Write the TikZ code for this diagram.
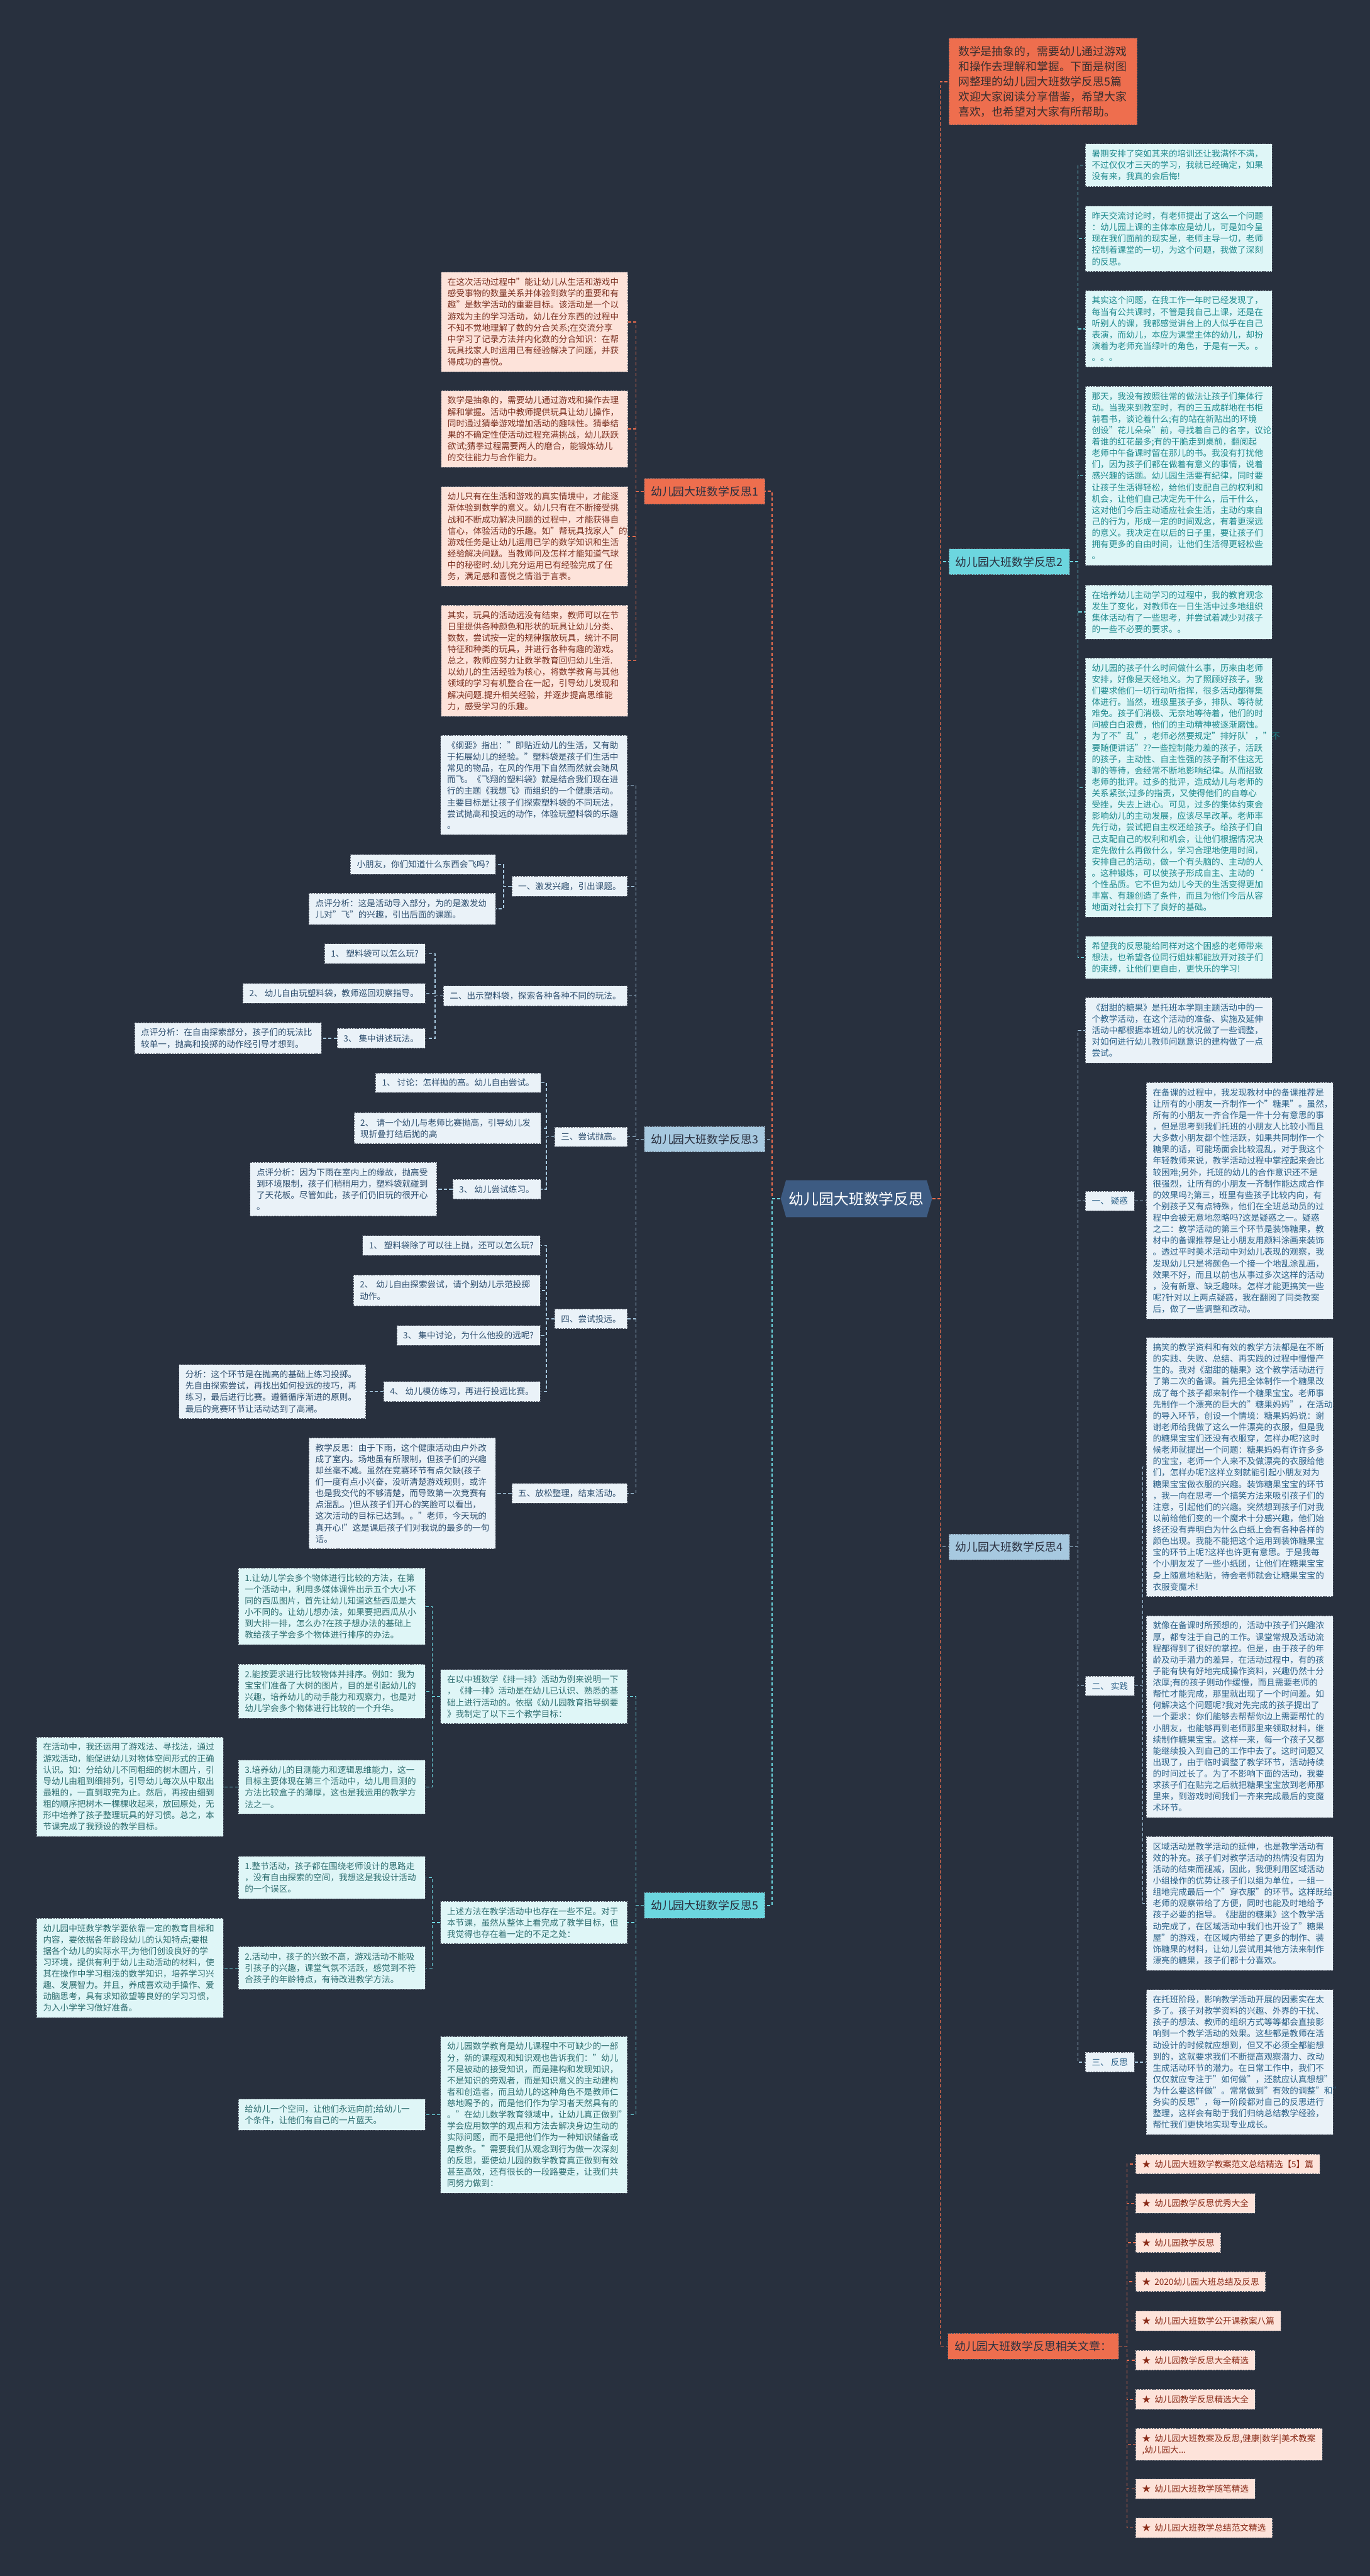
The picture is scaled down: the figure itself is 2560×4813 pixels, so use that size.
\documentclass[tikz,border=0pt]{standalone}
\usepackage{fontspec}
\setmainfont{Noto Sans CJK SC}
\definecolor{bgc}{HTML}{28303E}
\definecolor{bord}{HTML}{555C6A}
\definecolor{orL}{HTML}{EE6E4E}
\definecolor{cyL}{HTML}{6CD6DF}
\definecolor{blL}{HTML}{A7C9E0}
\definecolor{rootc}{HTML}{3D5B82}
\definecolor{lvT}{HTML}{2B3140}
\definecolor{orF}{HTML}{FDE3DA}
\definecolor{orT}{HTML}{7B3020}
\definecolor{cyF}{HTML}{DFF6F7}
\definecolor{cyT}{HTML}{1F8A8E}
\definecolor{cyfT}{HTML}{2E6E70}
\definecolor{blF}{HTML}{EAF2F8}
\definecolor{blT}{HTML}{2D4E6E}
\definecolor{blfT}{HTML}{2C6289}
\definecolor{relT}{HTML}{8A2B18}
\definecolor{introT}{HTML}{3A2F2F}
\pgfdeclarelayer{bg}
\pgfdeclarelayer{edges}
\pgfsetlayers{bg,edges,main}
\newcommand\myfs[2]{\fontsize{#1}{#2}\selectfont}
\newcommand\myL[3]{\draw[#1] (#2.west) -- ++(-15,0) |- (#3.east);}
\newcommand\myR[3]{\draw[#1] (#2.east) -- ++(15,0) |- (#3.west);}
\newcommand\st{★\kern0.45em}
\tikzset{
  bx/.style={draw=bord, dash pattern=on 3pt off 2pt, line width=1pt, inner xsep=12pt, inner ysep=11pt, font=\myfs{16}{21.3}},
  wd/.style={bx, text width=325pt, align=left},
  nor/.style={fill=orF, text=orT},
  ncy/.style={fill=cyF, text=cyT},
  ncyf/.style={fill=cyF, text=cyfT},
  nbl/.style={fill=blF, text=blT},
  nblf/.style={fill=blF, text=blfT},
  nrel/.style={fill=orF, text=relT},
  lv/.style={draw=bord, dash pattern=on 3pt off 2pt, line width=1pt, inner xsep=12.5pt, inner ysep=0pt, minimum height=48pt, font=\myfs{21}{25}, text=lvT},
  cb/.style={line width=1.6pt, dash pattern=on 6pt off 4pt},
  co/.style={cb, draw=orL},
  cc/.style={cb, draw=cyL},
  cl/.style={cb, draw=blL},
  tco/.style={co, line width=2.2pt},
  tcc/.style={cc, line width=2.2pt},
  tcl/.style={cl, line width=2.2pt},
}
\begin{document}
\begin{tikzpicture}[x=1pt, y=-1pt]
\useasboundingbox (0,0) rectangle (2560,4813);
\begin{pgfonlayer}{bg}
\fill[bgc] (0,0) rectangle (2560,4813);
\end{pgfonlayer}

% root
\node[fill=bgc, minimum width=283pt, minimum height=69pt, inner sep=0pt, text=white, font=\myfs{28}{32},
  path picture={\fill[rootc] ([xshift=10pt]path picture bounding box.north west) -- ([xshift=-10pt]path picture bounding box.north east) -- (path picture bounding box.east) -- ([xshift=-10pt]path picture bounding box.south east) -- ([xshift=10pt]path picture bounding box.south west) -- (path picture bounding box.west) -- cycle;}]
  (root) at (1600.5,2239.5) {幼儿园大班数学反思};

% ===== right side =====
\node[draw=bord, dash pattern=on 3pt off 2pt, line width=1pt, fill=orL, text=introT, anchor=west, text width=317pt, align=left, inner xsep=17.5pt, inner ysep=15pt, font=\myfs{21}{28}] (intro) at (1773,152.5)
{数学是抽象的，需要幼儿通过游戏\\和操作去理解和掌握。下面是树图\\网整理的幼儿园大班数学反思5篇\\欢迎大家阅读分享借鉴，希望大家\\喜欢，也希望对大家有所帮助。};

\node[lv, fill=cyL, anchor=west] (r2) at (1773,1049.5) {幼儿园大班数学反思2};
\node[wd, ncy, anchor=west] (r2a) at (2028,308.5) {暑期安排了突如其来的培训还让我满怀不满，\\不过仅仅才三天的学习，我就已经确定，如果\\没有来，我真的会后悔!};
\node[wd, ncy, anchor=west] (r2b) at (2028,446) {昨天交流讨论时，有老师提出了这么一个问题\\：幼儿园上课的主体本应是幼儿，可是如今呈\\现在我们面前的现实是，老师主导一切，老师\\控制着课堂的一切，为这个问题，我做了深刻\\的反思。};
\node[wd, ncy, anchor=west] (r2c) at (2028,614.5) {其实这个问题，在我工作一年时已经发现了，\\每当有公共课时，不管是我自己上课，还是在\\听别人的课，我都感觉讲台上的人似乎在自己\\表演，而幼儿，本应为课堂主体的幼儿，却扮\\演着为老师充当绿叶的角色，于是有一天。。\\。。。};
\node[wd, ncy, anchor=west] (r2d) at (2028,889) {那天，我没有按照往常的做法让孩子们集体行\\动。当我来到教室时，有的三五成群地在书柜\\前看书，谈论着什么;有的站在新贴出的环境\\创设"花儿朵朵"前，寻找着自己的名字，议论\\着谁的红花最多;有的干脆走到桌前，翻阅起\\老师中午备课时留在那儿的书。我没有打扰他\\们，因为孩子们都在做着有意义的事情，说着\\感兴趣的话题。幼儿园生活要有纪律，同时要\\让孩子生活得轻松，给他们支配自己的权利和\\机会，让他们自己决定先干什么，后干什么，\\这对他们今后主动适应社会生活，主动约束自\\己的行为，形成一定的时间观念，有着更深远\\的意义。我决定在以后的日子里，要让孩子们\\拥有更多的自由时间，让他们生活得更轻松些\\。};
\node[wd, ncy, anchor=west] (r2e) at (2028,1143.5) {在培养幼儿主动学习的过程中，我的教育观念\\发生了变化，对教师在一日生活中过多地组织\\集体活动有了一些思考，并尝试着减少对孩子\\的一些不必要的要求。。};
\node[wd, ncy, anchor=west] (r2f) at (2028,1471.5) {幼儿园的孩子什么时间做什么事，历来由老师\\安排，好像是天经地义。为了照顾好孩子，我\\们要求他们一切行动听指挥，很多活动都得集\\体进行。当然，班级里孩子多，排队、等待就\\难免。孩子们消极、无奈地等待着，他们的时\\间被白白浪费，他们的主动精神被逐渐磨蚀。\\为了不"乱"，老师必然要规定"排好队’，"不\\要随便讲话"??一些控制能力差的孩子，活跃\\的孩子，主动性、自主性强的孩子耐不住这无\\聊的等待，会经常不断地影响纪律。从而招致\\老师的批评。过多的批评，造成幼儿与老师的\\关系紧张;过多的指责，又使得他们的自尊心\\受挫，失去上进心。可见，过多的集体约束会\\影响幼儿的主动发展，应该尽早改革。老师率\\先行动，尝试把自主权还给孩子。给孩子们自\\己支配自己的权利和机会，让他们根据情况决\\定先做什么再做什么，学习合理地使用时间，\\安排自己的活动，做一个有头脑的、主动的人\\。这种锻炼，可以使孩子形成自主、主动的`\\个性品质。它不但为幼儿今天的生活变得更加\\丰富、有趣创造了条件，而且为他们今后从容\\地面对社会打下了良好的基础。};
\node[wd, ncy, anchor=west] (r2g) at (2028,1789) {希望我的反思能给同样对这个困惑的老师带来\\想法，也希望各位同行姐妹都能放开对孩子们\\的束缚，让他们更自由，更快乐的学习!};

\node[lv, fill=blL, anchor=west] (r4) at (1773,2890) {幼儿园大班数学反思4};
\node[wd, nblf, anchor=west] (r4a) at (2028,1925) {《甜甜的糖果》是托班本学期主题活动中的一\\个教学活动，在这个活动的准备、实施及延伸\\活动中都根据本班幼儿的状况做了一些调整，\\对如何进行幼儿教师问题意识的建构做了一点\\尝试。};
\node[bx, nblf, anchor=west] (r4b) at (2028,2244) {一、 疑惑};
\node[wd, nblf, anchor=west] (r4b1) at (2142,2243.5) {在备课的过程中，我发现教材中的备课推荐是\\让所有的小朋友一齐制作一个"糖果"。虽然，\\所有的小朋友一齐合作是一件十分有意思的事\\，但是思考到我们托班的小朋友人比较小而且\\大多数小朋友都个性活跃，如果共同制作一个\\糖果的话，可能场面会比较混乱，对于我这个\\年轻教师来说，教学活动过程中掌控起来会比\\较困难;另外，托班的幼儿的合作意识还不是\\很强烈，让所有的小朋友一齐制作能达成合作\\的效果吗?;第三，班里有些孩子比较内向，有\\个别孩子又有点特殊，他们在全班总动员的过\\程中会被无意地忽略吗?这是疑惑之一。疑惑\\之二：教学活动的第三个环节是装饰糖果，教\\材中的备课推荐是让小朋友用颜料涂画来装饰\\。透过平时美术活动中对幼儿表现的观察，我\\发现幼儿只是将颜色一个接一个地乱涂乱画，\\效果不好，而且以前也从事过多次这样的活动\\，没有新意、缺乏趣味。怎样才能更搞笑一些\\呢?针对以上两点疑惑，我在翻阅了同类教案\\后，做了一些调整和改动。};
\node[bx, nblf, anchor=west] (r4c) at (2028,3150) {二、 实践};
\node[wd, nblf, anchor=west] (r4c1) at (2142,2741) {搞笑的教学资料和有效的教学方法都是在不断\\的实践、失败、总结、再实践的过程中慢慢产\\生的。我对《甜甜的糖果》这个教学活动进行\\了第二次的备课。首先把全体制作一个糖果改\\成了每个孩子都来制作一个糖果宝宝。老师事\\先制作一个漂亮的巨大的"糖果妈妈"，在活动\\的导入环节，创设一个情境：糖果妈妈说：谢\\谢老师给我做了这么一件漂亮的衣服，但是我\\的糖果宝宝们还没有衣服穿，怎样办呢?这时\\候老师就提出一个问题：糖果妈妈有许许多多\\的宝宝，老师一个人来不及做漂亮的衣服给他\\们，怎样办呢?这样立刻就能引起小朋友对为\\糖果宝宝做衣服的兴趣。装饰糖果宝宝的环节\\，我一向在思考一个搞笑方法来吸引孩子们的\\注意，引起他们的兴趣。突然想到孩子们对我\\以前给他们变的一个魔术十分感兴趣，他们始\\终还没有弄明白为什么白纸上会有各种各样的\\颜色出现。我能不能把这个运用到装饰糖果宝\\宝的环节上呢?这样也许更有意思。于是我每\\个小朋友发了一些小纸团，让他们在糖果宝宝\\身上随意地粘贴，待会老师就会让糖果宝宝的\\衣服变魔术!};
\node[wd, nblf, anchor=west] (r4c2) at (2142,3207.5) {就像在备课时所预想的，活动中孩子们兴趣浓\\厚，都专注于自己的工作。课堂常规及活动流\\程都得到了很好的掌控。但是，由于孩子的年\\龄及动手潜力的差异，在活动过程中，有的孩\\子能有快有好地完成操作资料，兴趣仍然十分\\浓厚;有的孩子则动作缓慢，而且需要老师的\\帮忙才能完成，那里就出现了一个时间差。如\\何解决这个问题呢?我对先完成的孩子提出了\\一个要求：你们能够去帮帮你边上需要帮忙的\\小朋友，也能够再到老师那里来领取材料，继\\续制作糖果宝宝。这样一来，每一个孩子又都\\能继续投入到自己的工作中去了。这时问题又\\出现了，由于临时调整了教学环节，活动持续\\的时间过长了。为了不影响下面的活动，我要\\求孩子们在贴完之后就把糖果宝宝放到老师那\\里来，到游戏时间我们一齐来完成最后的变魔\\术环节。};
\node[wd, nblf, anchor=west] (r4c3) at (2142,3556.5) {区域活动是教学活动的延伸，也是教学活动有\\效的补充。孩子们对教学活动的热情没有因为\\活动的结束而褪减，因此，我便利用区域活动\\小组操作的优势让孩子们以组为单位，一组一\\组地完成最后一个"穿衣服"的环节。这样既给\\老师的观察带给了方便，同时也能及时地给予\\孩子必要的指导。《甜甜的糖果》这个教学活\\动完成了，在区域活动中我们也开设了"糖果\\屋"的游戏，在区域内带给了更多的制作、装\\饰糖果的材料，让幼儿尝试用其他方法来制作\\漂亮的糖果，孩子们都十分喜欢。};
\node[bx, nblf, anchor=west] (r4d) at (2028,3853) {三、 反思};
\node[wd, nblf, anchor=west] (r4d1) at (2142,3853) {在托班阶段，影响教学活动开展的因素实在太\\多了。孩子对教学资料的兴趣、外界的干扰、\\孩子的想法、教师的组织方式等等都会直接影\\响到一个教学活动的效果。这些都是教师在活\\动设计的时候就应想到，但又不必须全都能想\\到的，这就要求我们不断提高观察潜力、改动\\生成活动环节的潜力。在日常工作中，我们不\\仅仅就应专注于"如何做"，还就应认真想想"\\为什么要这样做"。常常做到"有效的调整"和"\\务实的反思"，每一阶段都对自己的反思进行\\整理，这样会有助于我们归纳总结教学经验，\\帮忙我们更快地实现专业成长。};

\node[lv, fill=orL, anchor=west] (rel) at (1771,4383.5) {幼儿园大班数学反思相关文章：};
\node[bx, nrel, anchor=west] (rel1) at (2122,4043.5) {\st 幼儿园大班数学教案范文总结精选【5】篇};
\node[bx, nrel, anchor=west] (rel2) at (2122,4116.5) {\st 幼儿园教学反思优秀大全};
\node[bx, nrel, anchor=west] (rel3) at (2122,4190) {\st 幼儿园教学反思};
\node[bx, nrel, anchor=west] (rel4) at (2122,4263) {\st 2020幼儿园大班总结及反思};
\node[bx, nrel, anchor=west] (rel5) at (2122,4336.5) {\st 幼儿园大班数学公开课教案八篇};
\node[bx, nrel, anchor=west] (rel6) at (2122,4410) {\st 幼儿园教学反思大全精选};
\node[bx, nrel, anchor=west] (rel7) at (2122,4483) {\st 幼儿园教学反思精选大全};
\node[wd, nrel, anchor=west] (rel8) at (2122,4567) {\st 幼儿园大班教案及反思,健康|数学|美术教案\\,幼儿园大...};
\node[bx, nrel, anchor=west] (rel9) at (2122,4650) {\st 幼儿园大班教学随笔精选};
\node[bx, nrel, anchor=west] (rel10) at (2122,4723) {\st 幼儿园大班教学总结范文精选};

% ===== left side =====
\node[lv, fill=orL, anchor=east] (l1) at (1430,918) {幼儿园大班数学反思1};
\node[wd, nor, anchor=east] (l1a) at (1174,601.5) {在这次活动过程中"能让幼儿从生活和游戏中\\感受事物的数量关系并体验到数学的重要和有\\趣"是数学活动的重要目标。该活动是一个以\\游戏为主的学习活动，幼儿在分东西的过程中\\不知不觉地理解了数的分合关系;在交流分享\\中学习了记录方法并内化数的分合知识：在帮\\玩具找家人时运用已有经验解决了问题，并获\\得成功的喜悦。};
\node[wd, nor, anchor=east] (l1b) at (1174,801.5) {数学是抽象的，需要幼儿通过游戏和操作去理\\解和掌握。活动中教师提供玩具让幼儿操作，\\同时通过猜拳游戏增加活动的趣味性。猜拳结\\果的不确定性使活动过程充满挑战，幼儿跃跃\\欲试;猜拳过程需要两人的磨合，能锻炼幼儿\\的交往能力与合作能力。};
\node[wd, nor, anchor=east] (l1c) at (1174,1002.5) {幼儿只有在生活和游戏的真实情境中，才能逐\\渐体验到数学的意义。幼儿只有在不断接受挑\\战和不断成功解决问题的过程中，才能获得自\\信心，体验活动的乐趣。如"帮玩具找家人"的\\游戏任务是让幼儿运用已学的数学知识和生活\\经验解决问题。当教师问及怎样才能知道气球\\中的秘密时.幼儿充分运用已有经验完成了任\\务，满足感和喜悦之情溢于言表。};
\node[wd, nor, anchor=east] (l1d) at (1174,1234.5) {其实，玩具的活动远没有结束，教师可以在节\\日里提供各种颜色和形状的玩具让幼儿分类、\\数数，尝试按一定的规律摆放玩具，统计不同\\特征和种类的玩具，并进行各种有趣的游戏。\\总之，教师应努力让数学教育回归幼儿生活.\\以幼儿的生活经验为核心，将数学教育与其他\\领域的学习有机整合在一起，引导幼儿发现和\\解决问题.提升相关经验，并逐步提高思维能\\力，感受学习的乐趣。};

\node[lv, fill=blL, anchor=east] (l3) at (1430,2128.5) {幼儿园大班数学反思3};
\node[wd, nbl, anchor=east] (l3a) at (1173,1467) {《纲要》指出："即贴近幼儿的生活，又有助\\于拓展幼儿的经验。"塑料袋是孩子们生活中\\常见的物品，在风的作用下自然而然就会随风\\而飞。《飞翔的塑料袋》就是结合我们现在进\\行的主题《我想飞》而组织的一个健康活动。\\主要目标是让孩子们探索塑料袋的不同玩法，\\尝试抛高和投远的动作，体验玩塑料袋的乐趣\\。};
\node[bx, nbl, anchor=east] (l3b) at (1173,1656) {一、激发兴趣，引出课题。};
\node[bx, nbl, anchor=east] (l3b1) at (927,1615) {小朋友，你们知道什么东西会飞吗?};
\node[wd, nbl, anchor=east] (l3b2) at (927,1698) {点评分析：这是活动导入部分，为的是激发幼\\儿对"飞"的兴趣，引出后面的课题。};
\node[bx, nbl, anchor=east] (l3c) at (1173,1861) {二、出示塑料袋，探索各种各种不同的玩法。};
\node[bx, nbl, anchor=east] (l3c1) at (795,1782) {1、 塑料袋可以怎么玩?};
\node[bx, nbl, anchor=east] (l3c2) at (795,1856) {2、 幼儿自由玩塑料袋，教师巡回观察指导。};
\node[bx, nbl, anchor=east] (l3c3) at (795,1940) {3、 集中讲述玩法。};
\node[wd, nbl, anchor=east] (l3c3a) at (601,1940) {点评分析：在自由探索部分，孩子们的玩法比\\较单一，抛高和投掷的动作经引导才想到。};
\node[bx, nbl, anchor=east] (l3d) at (1173,2124) {三、尝试抛高。};
\node[bx, nbl, anchor=east] (l3d1) at (1011,2023) {1、 讨论：怎样抛的高。幼儿自由尝试。};
\node[wd, nbl, anchor=east] (l3d2) at (1011,2108) {2、 请一个幼儿与老师比赛抛高，引导幼儿发\\现折叠打结后抛的高};
\node[bx, nbl, anchor=east] (l3d3) at (1011,2222) {3、 幼儿尝试练习。};
\node[wd, nbl, anchor=east] (l3d3a) at (817,2222) {点评分析：因为下雨在室内上的缘故，抛高受\\到环境限制，孩子们稍稍用力，塑料袋就碰到\\了天花板。尽管如此，孩子们仍旧玩的很开心\\。};
\node[bx, nbl, anchor=east] (l3e) at (1173,2464) {四、尝试投远。};
\node[bx, nbl, anchor=east] (l3e1) at (1010,2327) {1、 塑料袋除了可以往上抛，还可以怎么玩?};
\node[wd, nbl, anchor=east] (l3e2) at (1010,2411) {2、 幼儿自由探索尝试，请个别幼儿示范投掷\\动作。};
\node[bx, nbl, anchor=east] (l3e3) at (1010,2495) {3、 集中讨论，为什么他投的远呢?};
\node[bx, nbl, anchor=east] (l3e4) at (1010,2600) {4、 幼儿模仿练习，再进行投远比赛。};
\node[wd, nbl, anchor=east] (l3e4a) at (684,2600) {分析：这个环节是在抛高的基础上练习投掷。\\先自由探索尝试，再找出如何投远的技巧，再\\练习，最后进行比赛。遵循循序渐进的原则。\\最后的竞赛环节让活动达到了高潮。};
\node[bx, nbl, anchor=east] (l3f) at (1173,2790) {五、放松整理，结束活动。};
\node[wd, nbl, anchor=east] (l3f1) at (927,2790) {教学反思：由于下雨，这个健康活动由户外改\\成了室内。场地虽有所限制，但孩子们的兴趣\\却丝毫不减。虽然在竞赛环节有点欠缺(孩子\\们一度有点小兴奋，没听清楚游戏规则，或许\\也是我交代的不够清楚，而导致第一次竞赛有\\点混乱。)但从孩子们开心的笑脸可以看出，\\这次活动的目标已达到。。"老师，今天玩的\\真开心!"这是课后孩子们对我说的最多的一句\\话。};

\node[lv, fill=cyL, anchor=east] (l5) at (1430,3560) {幼儿园大班数学反思5};
\node[wd, ncyf, anchor=east] (l5a) at (1173,3170) {在以中班数学《排一排》活动为例来说明一下\\，《排一排》活动是在幼儿已认识、熟悉的基\\础上进行活动的。依据《幼儿园教育指导纲要\\》我制定了以下三个教学目标：};
\node[wd, ncyf, anchor=east] (l5a1) at (795,3001.5) {1.让幼儿学会多个物体进行比较的方法，在第\\一个活动中，利用多媒体课件出示五个大小不\\同的西瓜图片，首先让幼儿知道这些西瓜是大\\小不同的。让幼儿想办法，如果要把西瓜从小\\到大排一排，怎么办?在孩子想办法的基础上\\教给孩子学会多个物体进行排序的办法。};
\node[wd, ncyf, anchor=east] (l5a2) at (795,3160) {2.能按要求进行比较物体并排序。例如：我为\\宝宝们准备了大树的图片，目的是引起幼儿的\\兴趣，培养幼儿的动手能力和观察力，也是对\\幼儿学会多个物体进行比较的一个升华。};
\node[wd, ncyf, anchor=east] (l5a3) at (795,3339) {3.培养幼儿的目测能力和逻辑思维能力，这一\\目标主要体现在第三个活动中，幼儿用目测的\\方法比较盒子的薄厚，这也是我运用的教学方\\法之一。};
\node[wd, ncyf, anchor=east] (l5a3a) at (418,3338.5) {在活动中，我还运用了游戏法、寻找法，通过\\游戏活动，能促进幼儿对物体空间形式的正确\\认识。如：分给幼儿不同粗细的树木图片，引\\导幼儿由粗到细排列，引导幼儿每次从中取出\\最粗的，一直到取完为止。然后，再按由细到\\粗的顺序把树木一棵棵收起来，放回原处，无\\形中培养了孩子整理玩具的好习惯。总之，本\\节课完成了我预设的教学目标。};
\node[wd, ncyf, anchor=east] (l5b) at (1173,3592) {上述方法在教学活动中也存在一些不足。对于\\本节课，虽然从整体上看完成了教学目标，但\\我觉得也存在着一定的不足之处：};
\node[wd, ncyf, anchor=east] (l5b1) at (795,3508) {1.整节活动，孩子都在围绕老师设计的思路走\\，没有自由探索的空间，我想这是我设计活动\\的一个误区。};
\node[wd, ncyf, anchor=east] (l5b2) at (795,3677) {2.活动中，孩子的兴致不高，游戏活动不能吸\\引孩子的兴趣，课堂气氛不活跃，感觉到不符\\合孩子的年龄特点，有待改进教学方法。};
\node[wd, ncyf, anchor=east] (l5b2a) at (418,3677) {幼儿园中班数学教学要依靠一定的教育目标和\\内容，要依据各年龄段幼儿的认知特点;要根\\据各个幼儿的实际水平;为他们创设良好的学\\习环境，提供有利于幼儿主动活动的材料，使\\其在操作中学习粗浅的数学知识，培养学习兴\\趣、发展智力。并且，养成喜欢动手操作、爱\\动脑思考，具有求知欲望等良好的学习习惯，\\为入小学学习做好准备。};
\node[wd, ncyf, anchor=east] (l5c) at (1173,3951) {幼儿园数学教育是幼儿课程中不可缺少的一部\\分，新的课程观和知识观也告诉我们："幼儿\\不是被动的接受知识，而是建构和发现知识，\\不是知识的旁观者，而是知识意义的主动建构\\者和创造者，而且幼儿的这种角色不是教师仁\\慈地赐予的，而是他们作为学习者天然具有的\\。"在幼儿数学教育领域中，让幼儿真正做到"\\学会应用数学的观点和方法去解决身边生动的\\实际问题，而不是把他们作为一种知识储备或\\是教条。"需要我们从观念到行为做一次深刻\\的反思，要使幼儿园的数学教育真正做到有效\\甚至高效，还有很长的一段路要走，让我们共\\同努力做到：};
\node[wd, ncyf, anchor=east] (l5c1) at (795,3951) {给幼儿一个空间，让他们永远向前;给幼儿一\\个条件，让他们有自己的一片蓝天。};

% ===== connectors =====
\begin{pgfonlayer}{edges}
\draw[tcl] (root.west) -- ++(-16,0) |- (l3.east);
\draw[tco] (root.west) -- ++(-16,0) |- (l1.east);
\draw[tcc] (root.west) -- ++(-16,0) |- (l5.east);
\draw[tcc] (root.east) -- ++(15,0) |- (r2.west);
\draw[tcl] (root.east) -- ++(15,0) |- (r4.west);
\draw[tco] (root.east) -- ++(15,0) |- (intro.west);
\draw[tco] (root.east) -- ++(15,0) |- (rel.west);

\myR{cc}{r2}{r2a} \myR{cc}{r2}{r2b} \myR{cc}{r2}{r2c} \myR{cc}{r2}{r2d}
\myR{cc}{r2}{r2e} \myR{cc}{r2}{r2f} \myR{cc}{r2}{r2g}

\myR{cl}{r4}{r4a} \myR{cl}{r4}{r4b} \myR{cl}{r4}{r4c} \myR{cl}{r4}{r4d}
\myR{cl}{r4b}{r4b1}
\myR{cl}{r4c}{r4c1} \myR{cl}{r4c}{r4c2} \myR{cl}{r4c}{r4c3}
\myR{cl}{r4d}{r4d1}

\myR{co}{rel}{rel1} \myR{co}{rel}{rel2} \myR{co}{rel}{rel3} \myR{co}{rel}{rel4}
\myR{co}{rel}{rel5} \myR{co}{rel}{rel6} \myR{co}{rel}{rel7} \myR{co}{rel}{rel8}
\myR{co}{rel}{rel9} \myR{co}{rel}{rel10}

\myL{co}{l1}{l1a} \myL{co}{l1}{l1b} \myL{co}{l1}{l1c} \myL{co}{l1}{l1d}

\myL{cl}{l3}{l3a} \myL{cl}{l3}{l3b} \myL{cl}{l3}{l3c} \myL{cl}{l3}{l3d}
\myL{cl}{l3}{l3e} \myL{cl}{l3}{l3f}
\myL{cl}{l3b}{l3b1} \myL{cl}{l3b}{l3b2}
\myL{cl}{l3c}{l3c1} \myL{cl}{l3c}{l3c2} \myL{cl}{l3c}{l3c3}
\myL{cl}{l3c3}{l3c3a}
\myL{cl}{l3d}{l3d1} \myL{cl}{l3d}{l3d2} \myL{cl}{l3d}{l3d3}
\myL{cl}{l3d3}{l3d3a}
\myL{cl}{l3e}{l3e1} \myL{cl}{l3e}{l3e2} \myL{cl}{l3e}{l3e3} \myL{cl}{l3e}{l3e4}
\myL{cl}{l3e4}{l3e4a}
\myL{cl}{l3f}{l3f1}

\myL{cc}{l5}{l5a} \myL{cc}{l5}{l5b} \myL{cc}{l5}{l5c}
\myL{cc}{l5a}{l5a1} \myL{cc}{l5a}{l5a2} \myL{cc}{l5a}{l5a3}
\myL{cc}{l5a3}{l5a3a}
\myL{cc}{l5b}{l5b1} \myL{cc}{l5b}{l5b2}
\myL{cc}{l5b2}{l5b2a}
\myL{cc}{l5c}{l5c1}
\end{pgfonlayer}
\end{tikzpicture}
\end{document}
